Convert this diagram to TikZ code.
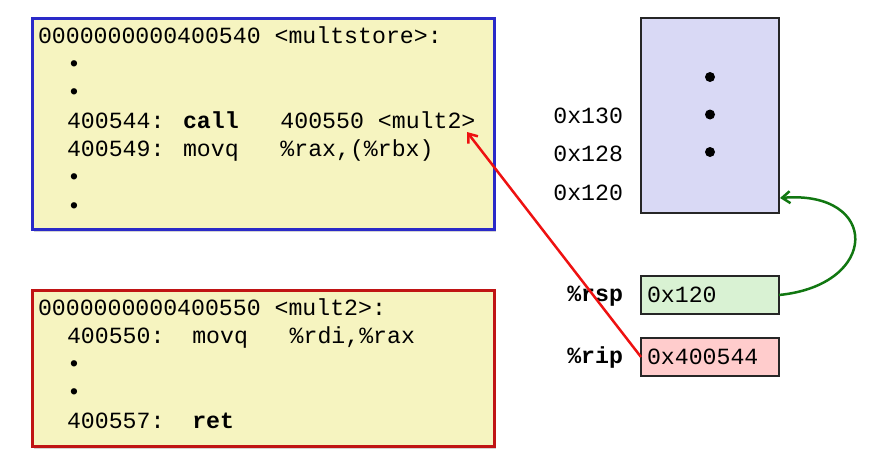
\documentclass[tikz,border=0pt]{standalone}
\usepackage{fontspec}
\newfontfamily\codefont{Liberation Mono}
\usetikzlibrary{arrows.meta,shadows}
\definecolor{codefill}{HTML}{F6F4C0}
\definecolor{boxblue}{HTML}{2A2AC8}
\definecolor{boxred}{HTML}{C01414}
\definecolor{stackfill}{HTML}{D9D9F5}
\definecolor{rspfill}{HTML}{D9F2D3}
\definecolor{ripfill}{HTML}{FFCCCC}
\definecolor{arrowgreen}{HTML}{117711}
\definecolor{arrowred}{HTML}{EE1111}
\begin{document}
\begin{tikzpicture}[x=1pt,y=-1pt,
  every node/.style={inner sep=0pt,outer sep=0pt},
  codebox/.style={draw,line width=3pt,fill=codefill,anchor=north west,
     drop shadow={shadow xshift=1.5pt,shadow yshift=-2.5pt,opacity=0.35}},
  membox/.style={draw=black!85,line width=2.5pt,anchor=north west},
  codeline/.style={anchor=base west,font=\codefont\fontsize{23.2}{28}\selectfont},
  lbl/.style={anchor=base east,font=\codefont\fontsize{23.2}{28}\selectfont},
  stackdot/.style={circle,fill=black,minimum size=10pt},
  ptr/.style={-{Straight Barb[length=8pt,width=12pt,line width=2.5pt]}}
]
\useasboundingbox (0,0) rectangle (880,466);
% code boxes
\node[codebox,draw=boxblue,minimum width=462pt,minimum height=211pt] (topbox) at (32,18) {};
\node[codebox,draw=boxred,minimum width=462pt,minimum height=156pt] (botbox) at (32,290) {};
% top code
\node[codeline] (t1) at (38,43) {0000000000400540 <multstore>:};
\node[codeline] (t2) at (67,71.3) {•};
\node[codeline] (t3) at (67,99.6) {•};
\node[codeline] (t4) at (67,128) {400544: \textbf{call}\ \ \ 400550 <mult2>};
\node[codeline] (t5) at (67,156.3) {400549: movq\ \ \ \%rax,(\%rbx)};
\node[codeline] (t6) at (67,184.6) {•};
\node[codeline] (t7) at (67,213) {•};
% bottom code
\node[codeline] (b1) at (38,315) {0000000000400550 <mult2>:};
\node[codeline] (b2) at (67,343.2) {400550:\ \ movq\ \ \ \%rdi,\%rax};
\node[codeline] (b3) at (67,371.5) {•};
\node[codeline] (b4) at (67,399.7) {•};
\node[codeline] (b5) at (67,428) {400557:\ \ \textbf{ret}};
% stack
\node[membox,fill=stackfill,minimum width=138pt,minimum height=195pt] (stack) at (641,18) {};
\node[stackdot] (d1) at (710,77) {};
\node[stackdot] (d2) at (710,114.5) {};
\node[stackdot] (d3) at (710,152) {};
\node[lbl] (a130) at (623,123) {0x130};
\node[lbl] (a128) at (623,161.5) {0x128};
\node[lbl] (a120) at (623,200) {0x120};
% registers
\node[membox,fill=rspfill,minimum width=138pt,minimum height=38pt] (rsp) at (641,276) {};
\node[membox,fill=ripfill,minimum width=138pt,minimum height=38pt] (rip) at (641,338) {};
\node[codeline] (rspval) at (647,302) {0x120};
\node[codeline] (ripval) at (647,364) {0x400544};
\node[lbl] (rsplbl) at (623,301) {\textbf{\%rsp}};
\node[lbl] (riplbl) at (623,363) {\textbf{\%rip}};
% arrows
\coordinate (calltip) at (467,132);
\coordinate (stk120) at (780,198);
\draw[ptr,arrowred,line width=2.5pt] (rip.west) -- (calltip);
\draw[ptr,arrowgreen,line width=2.5pt] (rsp.east) .. controls (880,285) and (880,190) .. (stk120);
\end{tikzpicture}
\end{document}
